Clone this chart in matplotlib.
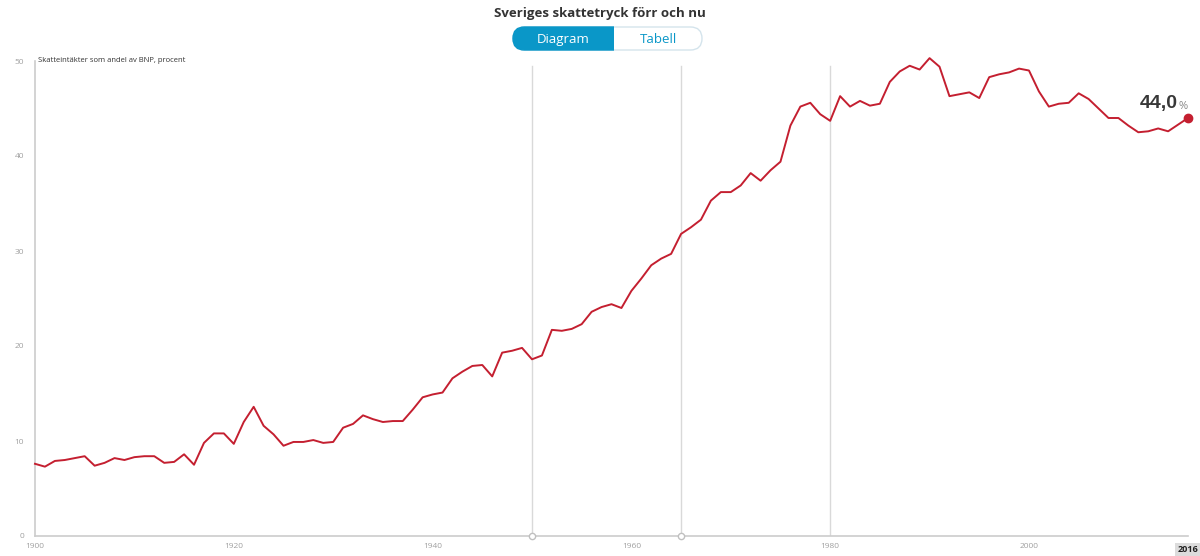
import matplotlib
matplotlib.use("Agg")
import matplotlib.pyplot as plt
from matplotlib.patches import FancyBboxPatch, Rectangle

plt.rcParams['font.family'] = ['Open Sans', 'DejaVu Sans']

# data: tax revenue as share of GDP, percent
years = list(range(1900, 2017))
tax_share = [
    7.6, 7.3, 7.9, 8.0, 8.2, 8.4, 7.4, 7.7, 8.2, 8.0,
    8.3, 8.4, 8.4, 7.7, 7.8, 8.6, 7.5, 9.8, 10.8, 10.8,
    9.7, 12.0, 13.6, 11.6, 10.7, 9.5, 9.9, 9.9, 10.1, 9.8,
    9.9, 11.4, 11.8, 12.7, 12.3, 12.0, 12.1, 12.1, 13.3, 14.6,
    14.9, 15.1, 16.6, 17.3, 17.9, 18.0, 16.8, 19.3, 19.5, 19.8,
    18.6, 19.0, 21.7, 21.6, 21.8, 22.3, 23.6, 24.1, 24.4, 24.0,
    25.8, 27.1, 28.5, 29.2, 29.7, 31.8, 32.5, 33.3, 35.3, 36.2,
    36.2, 36.9, 38.2, 37.4, 38.5, 39.4, 43.2, 45.2, 45.6, 44.4,
    43.7, 46.3, 45.2, 45.8, 45.3, 45.5, 47.8, 48.9, 49.5, 49.1,
    50.3, 49.4, 46.3, 46.5, 46.7, 46.1, 48.3, 48.6, 48.8, 49.2,
    49.0, 46.8, 45.2, 45.5, 45.6, 46.6, 46.0, 45.0, 44.0, 44.0,
    43.2, 42.5, 42.6, 42.9, 42.6, 43.3, 44.0,
]
marker_years = [1950, 1965, 1980]
circle_years = [1950, 1965]
x_ticks = [1900, 1920, 1940, 1960, 1980, 2000]
y_ticks = [0, 10, 20, 30, 40, 50]

red = '#c41f30'
grid_col = '#d9d9d9'
label_col = '#a0a0a0'
blue = '#0a97c8'

fig = plt.figure(figsize=(12, 5.56), dpi=100)

# overlay in pixel coordinates for the header and toggle
top = fig.add_axes([0, 0, 1, 1])
top.set_xlim(0, 1200)
top.set_ylim(556, 0)
top.axis('off')

ax = fig.add_axes([35 / 1200, 1 - 536 / 556, (1188 - 35) / 1200, (536 - 61) / 556])
ax.set_xlim(1900, 2016)
ax.set_ylim(0, 50)

for y in marker_years:
    ax.axvline(y, ymin=0, ymax=0.99, color=grid_col, lw=1, zorder=1)
ax.plot(circle_years, [0] * len(circle_years), 'o', ms=4.5, mfc='white',
        mec='#c0c0c0', mew=1, zorder=4, clip_on=False)

ax.plot(years, tax_share, color=red, lw=1.4, zorder=3, clip_on=False)
ax.plot(years[-1], tax_share[-1], 'o', color=red, ms=6, zorder=5, clip_on=False)

last = f"{tax_share[-1]:.1f}".replace('.', ',')
t = ax.annotate(last, (years[-1], tax_share[-1]), xytext=(-35, 4),
                textcoords='offset points', fontsize=14, fontweight='bold',
                color='#383838', ha='left', va='bottom',
                family=['Liberation Sans', 'DejaVu Sans'])
ax.annotate('%', xy=(1, 0), xycoords=t, xytext=(0.5, 0),
            textcoords='offset points', fontsize=8, color='#888888',
            ha='left', va='bottom')

for s in ['top', 'right']:
    ax.spines[s].set_visible(False)
for s in ['left', 'bottom']:
    ax.spines[s].set_color('#cccccc')
    ax.spines[s].set_linewidth(1.2)

ax.set_xticks(x_ticks)
ax.set_yticks(y_ticks)
ax.tick_params(length=0, labelsize=6, labelcolor=label_col)
ax.tick_params(axis='y', pad=8)
ax.tick_params(axis='x', pad=5)

ax.text(years[-1], -1.0, str(years[-1]), transform=ax.transData,
        ha='center', va='top', fontsize=6.5, fontweight='bold', color='#222222',
        bbox=dict(boxstyle='square,pad=0.25', fc='#dcdcdc', ec='none'))

ax.text(0.003, 1.0, 'Skatteintäkter som andel av BNP, procent',
        transform=ax.transAxes, fontsize=5.5, color='#333333',
        ha='left', va='center')

top.text(600, 14, 'Sveriges skattetryck förr och nu', ha='center',
         va='center', fontsize=9.5, fontweight='bold', color='#333333')

# toggle buttons
bx0, bx1, bxm, by0, by1 = 513, 702, 614, 27, 50
r = (by1 - by0) / 2
pill = FancyBboxPatch((bx0, by0), bx1 - bx0, by1 - by0,
                      boxstyle=f'round,pad=0,rounding_size={r}',
                      fc='white', ec='#d4e4ec', lw=1)
top.add_patch(pill)
left = FancyBboxPatch((bx0, by0), bx1 - bx0, by1 - by0,
                      boxstyle=f'round,pad=0,rounding_size={r}',
                      fc=blue, ec=blue, lw=1)
top.add_patch(left)
clip = Rectangle((bx0 - 2, by0 - 2), bxm - bx0 + 2, by1 - by0 + 4,
                 transform=top.transData)
left.set_clip_path(clip)
top.text((bx0 + bxm) / 2, (by0 + by1) / 2 + 1, 'Diagram', ha='center',
         va='center', fontsize=9.5, color='white')
top.text((bxm + bx1) / 2, (by0 + by1) / 2 + 1, 'Tabell', ha='center',
         va='center', fontsize=9.5, color=blue)

fig.savefig('out.png', dpi=100, facecolor='white')
